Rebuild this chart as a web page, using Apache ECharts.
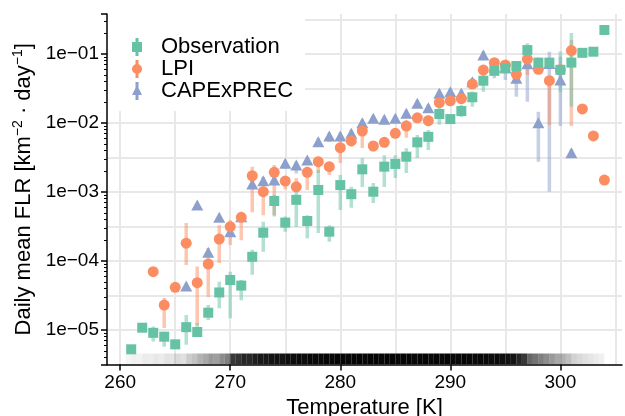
<!DOCTYPE html>
<html><head><meta charset="utf-8">
<script src="https://cdn.jsdelivr.net/npm/echarts@6/dist/echarts.min.js"></script>
<style>html,body{margin:0;padding:0;background:#fff}#c{width:625px;height:416px}</style>
</head><body><div id="c"></div>
<script>
// ---------------- data ----------------
const obsT = [261,262,263,264,265,266,267,268,269,270,271,272,273,274,275,276,277,278,279,280,281,282,283,284,285,286,287,288,289,290,291,292,293,294,295,296,297,298,299,300,301,302,303,304];
const obsV = [5.25e-6,1.08e-5,9.1e-6,8.0e-6,6.2e-6,1.1e-5,9.35e-6,1.78e-5,3.5e-5,5.3e-5,4.4e-5,1.15e-4,2.57e-4,7.4e-4,3.6e-4,7.7e-4,3.8e-4,1.07e-3,2.66e-4,1.26e-3,9.3e-4,2.13e-3,1.01e-3,2.33e-3,2.55e-3,3.25e-3,5.25e-3,6.3e-3,1.35e-2,1.14e-2,1.49e-2,2.36e-2,4.1e-2,5.7e-2,6.2e-2,6.7e-2,0.114,7.5e-2,7.5e-2,5.9e-2,7.5e-2,0.104,0.108,0.223];
const obsLo = [null,null,6.8e-6,5.7e-6,null,6.1e-6,8.0e-6,1.4e-5,2.06e-5,1.48e-5,2.7e-5,6.3e-5,1.36e-4,4.4e-4,2.66e-4,3.1e-4,2.13e-4,2.55e-4,1.9e-4,5.5e-4,5.9e-4,1.18e-3,6.9e-4,1.18e-3,1.6e-3,1.88e-3,3.1e-3,4.06e-3,9.4e-3,1.03e-2,1.22e-2,1.72e-2,2.84e-2,5.0e-2,5.5e-2,5.8e-2,9.1e-2,6.2e-2,6.5e-2,2.84e-2,1.72e-2,null,null,null];
const obsHi = [null,null,1.12e-5,9.4e-6,null,1.65e-5,1.26e-5,2.3e-5,5.0e-5,7.0e-5,5.3e-5,1.45e-4,3.7e-4,9.1e-4,4.4e-4,1.19e-3,4.6e-4,2.08e-3,3.3e-4,1.76e-3,1.19e-3,3.1e-3,1.35e-3,3.4e-3,3.4e-3,4.3e-3,6.7e-3,7.9e-3,1.65e-2,1.25e-2,1.82e-2,2.85e-2,4.96e-2,6.5e-2,7.0e-2,7.6e-2,0.143,8.9e-2,8.6e-2,0.109,0.201,null,null,null];

const lpiT = [263,264,265,266,267,268,269,270,271,272,273,274,275,276,277,278,279,280,281,282,283,284,285,286,287,288,289,290,291,292,293,294,295,296,297,298,299,300,301,302,303,304];
const lpiV = [7.0e-5,2.3e-5,4.16e-5,1.81e-4,4.85e-5,9.05e-5,2.08e-4,3.14e-4,4.3e-4,1.72e-3,1.01e-3,1.93e-3,1.44e-3,1.19e-3,1.93e-3,2.75e-3,2.33e-3,4.39e-3,5.5e-3,7.66e-3,4.64e-3,5.25e-3,7.1e-3,9.05e-3,1.19e-2,1.08e-2,1.97e-2,2.1e-2,2.25e-2,3.67e-2,5.86e-2,7.48e-2,6.93e-2,5.08e-2,8.4e-2,6.0e-2,4.1e-2,5.9e-2,0.112,1.6e-2,6.5e-3,1.49e-3];
const lpiLo = [null,1.07e-5,null,8.75e-5,1.18e-5,3.0e-5,9.35e-5,1.7e-4,2.0e-4,5.1e-4,4.6e-4,4.6e-4,1.1e-3,1.0e-3,1.07e-3,1.88e-3,1.76e-3,2.63e-3,4.6e-3,4.35e-3,3.9e-3,4.4e-3,6.0e-3,6.1e-3,1.0e-2,9.0e-3,1.7e-2,1.8e-2,1.95e-2,3.1e-2,5.0e-2,6.5e-2,6.0e-2,4.4e-2,4.96e-2,5.2e-2,9.35e-3,null,9.05e-3,null,null,null];
const lpiHi = [null,2.9e-5,null,3.56e-4,8.3e-5,1.54e-4,3.3e-4,3.9e-4,5.0e-4,2.33e-3,1.35e-3,2.46e-3,1.7e-3,1.6e-3,2.33e-3,3.25e-3,2.75e-3,5.7e-3,6.5e-3,9.35e-3,5.5e-3,6.2e-3,8.4e-3,1.1e-2,1.4e-2,1.3e-2,2.3e-2,2.45e-2,2.6e-2,4.3e-2,6.8e-2,8.6e-2,8.0e-2,5.9e-2,9.1e-2,6.9e-2,3.97e-2,null,0.16,null,null,null];

const capeT = [266,267,268,269,270,271,272,273,274,275,276,277,278,279,280,281,282,283,284,285,286,287,288,289,290,291,292,293,294,295,296,297,298,299,300,301];
const capeV = [4.35e-5,6.5e-4,1.34e-4,4.3e-4,2.66e-4,4.38e-4,1.31e-3,1.46e-3,1.49e-3,2.6e-3,2.46e-3,2.91e-3,5.36e-3,6.5e-3,6.5e-3,7.1e-3,1.01e-2,1.17e-2,1.13e-2,1.17e-2,1.38e-2,1.93e-2,1.67e-2,2.69e-2,2.84e-2,2.69e-2,3.97e-2,9.7e-2,6.5e-2,6.3e-2,4.45e-2,7.2e-2,1.01e-2,7.3e-2,4.2e-2,3.7e-3];
const capeLo = [null,null,null,null,null,null,1.15e-3,1.25e-3,1.3e-3,2.2e-3,1.85e-3,2.5e-3,4.7e-3,5.3e-3,5.6e-3,6.3e-3,9.0e-3,1.05e-2,1.0e-2,1.05e-2,1.2e-2,1.75e-2,1.5e-2,2.4e-2,2.55e-2,2.4e-2,3.5e-2,8.5e-2,4.45e-2,4.2e-2,2.41e-2,2.04e-2,2.75e-3,1.01e-3,9.05e-3,3.2e-3];
const capeHi = [null,null,null,null,null,null,1.5e-3,1.65e-3,1.7e-3,2.9e-3,2.75e-3,3.2e-3,6.0e-3,7.2e-3,7.3e-3,8.0e-3,1.12e-2,1.3e-2,1.25e-2,1.3e-2,1.55e-2,2.15e-2,1.85e-2,3.0e-2,3.15e-2,3.0e-2,4.5e-2,0.11,7.0e-2,7.0e-2,4.45e-2,7.2e-2,1.46e-2,0.108,9.1e-2,4.2e-3];

const rugT = [260.5,261,261.5,262,262.5,263,263.5,264,264.5,265,265.5,266,266.5,267,267.5,268,268.5,269,269.5,270,270.5,271,271.5,272,272.5,273,273.5,274,274.5,275,275.5,276,276.5,277,277.5,278,278.5,279,279.5,280,280.5,281,281.5,282,282.5,283,283.5,284,284.5,285,285.5,286,286.5,287,287.5,288,288.5,289,289.5,290,290.5,291,291.5,292,292.5,293,293.5,294,294.5,295,295.5,296,296.5,297,297.5,298,298.5,299,299.5,300,300.5,301,301.5,302,302.5,303,303.5];
const rugD = [0.04,0.06,0.05,0.08,0.07,0.09,0.08,0.11,0.1,0.14,0.12,0.2,0.24,0.3,0.34,0.4,0.38,0.45,0.5,0.78,0.8,0.85,0.84,0.88,0.9,0.9,0.92,0.93,0.92,0.94,0.95,0.96,0.95,0.97,0.96,0.97,0.98,0.97,0.98,0.98,0.97,0.98,0.98,0.97,0.98,0.98,0.97,0.98,0.98,0.97,0.98,0.98,0.97,0.98,0.98,0.97,0.98,0.97,0.98,0.97,0.97,0.98,0.97,0.96,0.97,0.96,0.95,0.96,0.94,0.93,0.92,0.85,0.78,0.6,0.55,0.5,0.45,0.4,0.35,0.3,0.25,0.18,0.15,0.12,0.1,0.08,0.06];

const xMin = 258.8, xMax = 305.6;
const yMin = 3.1623e-6, yMax = 0.38;
const yExpMin = -5.5, yExpMax = -0.42;

// ---------------- styling ----------------
const FONT = 'Liberation Sans, Arial, Helvetica, sans-serif';
const C_OBS = '#66c2a5', C_LPI = '#fc8d62', C_CAPE = '#8da0cb';
const GRID = '#e8e8e8';

function pts(T, V) { return T.map((t, i) => [t, V[i]]); }
function errs(T, L, H) {
  const out = [];
  T.forEach((t, i) => { if (L[i] != null && H[i] != null) out.push([t, L[i], H[i]]); });
  return out;
}
function errRender(color) {
  return function (params, api) {
    const x = api.value(0);
    const p1 = api.coord([x, api.value(1)]);
    const p2 = api.coord([x, api.value(2)]);
    return { type: 'line', shape: { x1: p1[0], y1: p1[1], x2: p2[0], y2: p2[1] },
      style: { stroke: color, lineWidth: 3.5, opacity: 0.5 } };
  };
}
function rugRender(params, api) {
  const t = api.value(0);
  const a = api.coord([t, yMin]);
  const b = api.coord([t + 0.5, yMin]);
  return { type: 'rect', shape: { x: a[0], y: a[1] - 11, width: b[0] - a[0], height: 11 },
    style: { fill: '#000', opacity: api.value(1) } };
}
function expLabel(v) {
  const e = Math.round(Math.log10(v));
  const s = String(Math.abs(e)).padStart(2, '0');
  return '1e' + (e < 0 ? '\u2212' : '+') + s;
}

const ICON_SQ = 'path://M0,4H10V14H0Z M3.5,0H6.5V18H3.5Z';
const ICON_CI = 'path://M10,9A5,5 0 1 1 0,9A5,5 0 1 1 10,9Z M3.5,0H6.5V18H3.5Z';
const ICON_TR = 'path://M5,3L10,13L0,13Z M3.5,0H6.5V18H3.5Z';

const chart = echarts.init(document.getElementById('c'), null, { renderer: 'canvas' });
chart.setOption({
  animation: false,
  backgroundColor: '#fff',
  textStyle: { fontFamily: FONT },
  grid: { left: 107, right: 3, top: 14, bottom: 51.5, containLabel: false, outerBoundsMode: 'none' },
  legend: {
    orient: 'vertical', left: 108, top: 14,
    padding: [22, 12, 9, 24], itemGap: 0, itemWidth: 10, itemHeight: 18,
    backgroundColor: '#fff', z: 10,
    textStyle: { fontSize: 22, color: '#000', fontFamily: FONT, lineHeight: 21, padding: [0, 0, 0, 14] },
    data: [
      { name: 'Observation', icon: ICON_SQ },
      { name: 'LPI', icon: ICON_CI },
      { name: 'CAPExPREC', icon: ICON_TR }
    ]
  },
  xAxis: [
    { type: 'value', min: xMin, max: xMax, minInterval: 10, maxInterval: 10, splitNumber: 5,
      axisLine: { show: true, onZero: false, lineStyle: { color: '#000', width: 1.5 } },
      axisTick: { show: true, length: 6, lineStyle: { color: '#000', width: 1.5 } },
      axisLabel: { showMinLabel: false, showMaxLabel: false, fontSize: 19, color: '#000', margin: 9, fontFamily: FONT },
      splitLine: { show: false },
      name: 'Temperature [K]', nameLocation: 'middle', nameGap: 25,
      nameTextStyle: { fontSize: 22, color: '#000', fontFamily: FONT } },
    { type: 'value', min: xMin, max: xMax, minInterval: 5, maxInterval: 5, splitNumber: 9, position: 'bottom',
      axisLine: { show: false, onZero: false }, axisTick: { show: false }, axisLabel: { show: false },
      splitLine: { show: true, showMinLine: false, showMaxLine: false, lineStyle: { color: GRID, width: 2 } } }
  ],
  yAxis: [
    { type: 'log', logBase: 10, min: yMin, max: yMax,
      axisLine: { show: true, onZero: false, lineStyle: { color: '#000', width: 1.5 } },
      axisTick: { show: true, length: 6, lineStyle: { color: '#000', width: 1.5 } },
      minorTick: { show: true, splitNumber: 9, length: 3, lineStyle: { color: '#000', width: 1 } },
      axisLabel: { formatter: expLabel, showMinLabel: false, showMaxLabel: false, fontSize: 19, color: '#000', margin: 8, fontFamily: FONT },
      splitLine: { show: false }, minorSplitLine: { show: false },
      name: '{a|Daily mean FLR [km}{s|\u22122}{a| \u00b7 day}{s|\u22121}{a|]}',
      nameLocation: 'middle', nameGap: 70, nameRotate: 90,
      nameTextStyle: { color: '#000', fontFamily: FONT,
        rich: { a: { fontSize: 22, color: '#000', fontFamily: FONT, lineHeight: 25 },
                s: { fontSize: 14, color: '#000', fontFamily: FONT, verticalAlign: 'top' } } } },
    { type: 'value', min: yExpMin, max: yExpMax, interval: 0.5,
      axisLine: { show: false, onZero: false }, axisTick: { show: false }, axisLabel: { show: false },
      splitLine: { show: true, showMinLine: false, showMaxLine: false, lineStyle: { color: GRID, width: 2 } } }
  ],
  series: [
    { type: 'custom', name: 'rug', renderItem: rugRender, data: rugT.map((t, i) => [t, rugD[i]]),
      encode: { x: 0, y: 1 }, xAxisIndex: 0, yAxisIndex: 0, z: 1, silent: true, clip: true },
    { type: 'custom', name: 'CAPExPREC err', renderItem: errRender(C_CAPE), data: errs(capeT, capeLo, capeHi),
      encode: { x: 0, y: [1, 2] }, z: 2, clip: true },
    { type: 'scatter', name: 'CAPExPREC', data: pts(capeT, capeV), symbol: 'triangle', symbolSize: [12, 11],
      itemStyle: { color: C_CAPE, opacity: 1 }, z: 2 },
    { type: 'custom', name: 'LPI err', renderItem: errRender(C_LPI), data: errs(lpiT, lpiLo, lpiHi),
      encode: { x: 0, y: [1, 2] }, z: 2, clip: true },
    { type: 'scatter', name: 'LPI', data: pts(lpiT, lpiV), symbol: 'circle', symbolSize: 11,
      itemStyle: { color: C_LPI, opacity: 1 }, z: 2 },
    { type: 'custom', name: 'Observation err', renderItem: errRender(C_OBS), data: errs(obsT, obsLo, obsHi),
      encode: { x: 0, y: [1, 2] }, z: 2, clip: true },
    { type: 'scatter', name: 'Observation', data: pts(obsT, obsV), symbol: 'rect', symbolSize: 10,
      itemStyle: { color: C_OBS, opacity: 1 }, z: 2 }
  ]
});
</script>
</body></html>
